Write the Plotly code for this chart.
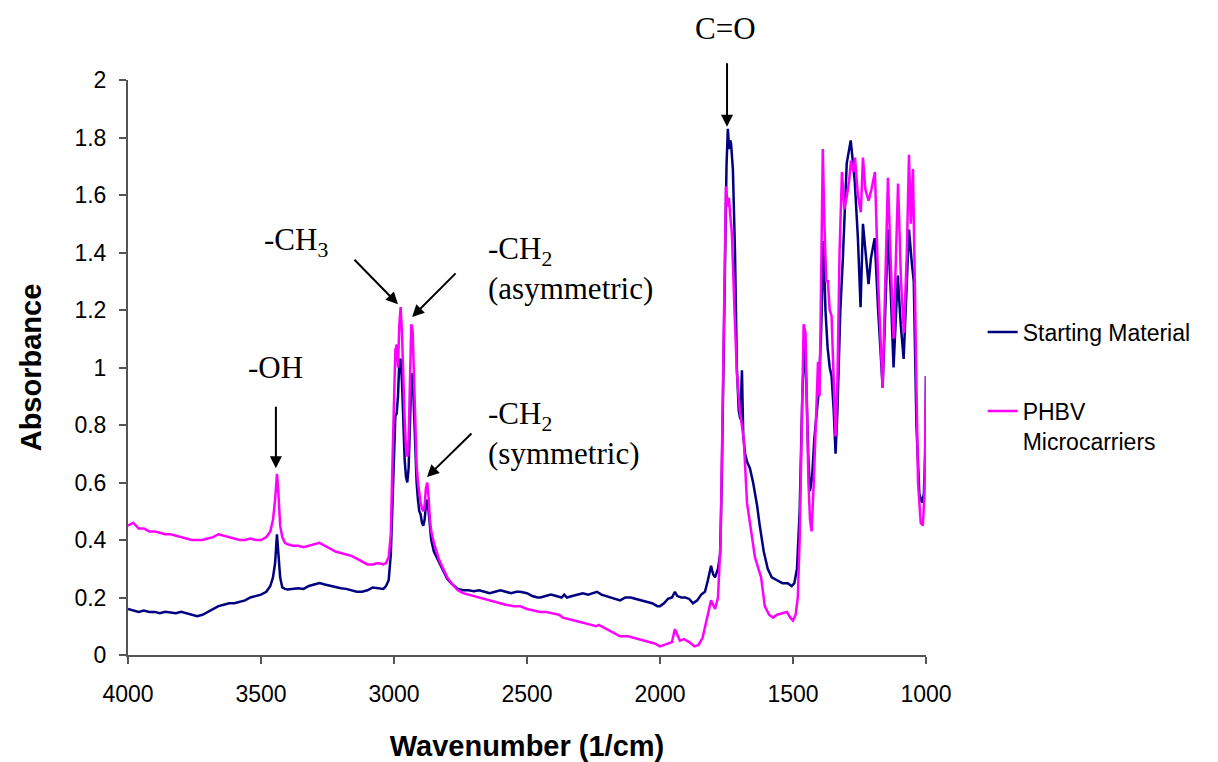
import plotly.graph_objects as go

# ---------------- data ----------------
wn_start = [4000, 3980, 3960, 3940, 3920, 3900, 3880, 3860, 3840, 3820, 3800, 3780, 3760, 3740, 3720,
            3700, 3680, 3660, 3640, 3620, 3600, 3580, 3560, 3540, 3520, 3500, 3480, 3465, 3455, 3447,
            3440, 3435, 3428, 3420, 3410, 3400, 3380, 3360, 3340, 3320, 3300, 3280, 3260, 3240, 3220,
            3200, 3180, 3160, 3140, 3120, 3100, 3080, 3060, 3040, 3030, 3020, 3012, 3005, 3000, 2995,
            2990, 2985, 2980, 2975, 2970, 2965, 2960, 2955, 2950, 2945, 2940, 2935, 2930, 2925, 2920,
            2915, 2910, 2905, 2900, 2895, 2890, 2885, 2880, 2875, 2870, 2865, 2860, 2850, 2840, 2830,
            2820, 2810, 2800, 2780, 2760, 2740, 2720, 2700, 2680, 2660, 2640, 2620, 2600, 2580, 2560,
            2540, 2526, 2500, 2480, 2460, 2450, 2430, 2410, 2390, 2370, 2360, 2350, 2330, 2310, 2290,
            2270, 2250, 2237, 2220, 2200, 2180, 2160, 2150, 2130, 2110, 2090, 2070, 2050, 2030, 2010,
            2000, 1985, 1970, 1955, 1944, 1935, 1920, 1905, 1890, 1876, 1860, 1845, 1831, 1820, 1808,
            1800, 1793, 1782, 1774, 1768, 1762, 1757, 1750, 1745, 1740, 1736, 1733, 1726, 1718, 1711,
            1704, 1698, 1692, 1687, 1680, 1672, 1662, 1650, 1635, 1625, 1610, 1595, 1580, 1560, 1540,
            1520, 1505, 1495, 1485, 1475, 1465, 1456, 1450, 1443, 1436, 1428, 1420, 1410, 1405, 1395,
            1385, 1378, 1370, 1362, 1355, 1347, 1340, 1333, 1322, 1313, 1298, 1283, 1268, 1256, 1246,
            1237, 1227, 1216, 1207, 1193, 1180, 1163, 1153, 1143, 1132, 1122, 1106, 1095, 1084, 1072,
            1064, 1053, 1046, 1036, 1025, 1015, 1008, 1003, 1000]
abs_start = [0.16, 0.155, 0.15, 0.155, 0.15, 0.15, 0.145, 0.15, 0.148, 0.145, 0.15, 0.145, 0.14, 0.135, 0.14,
             0.15, 0.16, 0.17, 0.175, 0.18, 0.18, 0.185, 0.19, 0.2, 0.205, 0.21, 0.22, 0.24, 0.27, 0.32,
             0.42, 0.36, 0.27, 0.235, 0.23, 0.228, 0.23, 0.232, 0.23, 0.24, 0.245, 0.25, 0.245, 0.24, 0.235,
             0.232, 0.23, 0.225, 0.22, 0.22, 0.225, 0.235, 0.232, 0.23, 0.24, 0.26, 0.35, 0.55, 0.72, 0.83,
             0.84, 0.9, 1.02, 1.03, 0.95, 0.8, 0.68, 0.62, 0.6, 0.65, 0.8, 0.96, 0.98, 0.85, 0.7,
             0.6, 0.54, 0.5, 0.49, 0.46, 0.45, 0.47, 0.52, 0.54, 0.5, 0.44, 0.4, 0.36, 0.34, 0.32,
             0.3, 0.28, 0.265, 0.245, 0.23, 0.225, 0.225, 0.222, 0.225, 0.22, 0.215, 0.22, 0.225, 0.22, 0.215,
             0.22, 0.22, 0.215, 0.205, 0.2, 0.2, 0.205, 0.21, 0.205, 0.2, 0.21, 0.2, 0.205, 0.21, 0.215,
             0.21, 0.215, 0.22, 0.21, 0.205, 0.2, 0.195, 0.19, 0.2, 0.2, 0.195, 0.19, 0.185, 0.18, 0.17,
             0.17, 0.18, 0.195, 0.2, 0.22, 0.205, 0.2, 0.2, 0.195, 0.18, 0.19, 0.21, 0.22, 0.26, 0.31,
             0.28, 0.27, 0.3, 0.35, 0.6, 1.0, 1.4, 1.7, 1.83, 1.76, 1.79, 1.78, 1.69, 1.4, 1.0,
             0.85, 0.82, 0.99, 0.76, 0.7, 0.67, 0.65, 0.6, 0.52, 0.45, 0.36, 0.3, 0.27, 0.26, 0.25,
             0.25, 0.24, 0.25, 0.3, 0.5, 0.9, 1.1, 0.95, 0.7, 0.57, 0.62, 0.75, 0.85, 0.9, 1.1,
             1.44, 1.2, 1.07, 1.0, 0.97, 0.85, 0.7, 0.85, 1.2, 1.37, 1.71, 1.79, 1.65, 1.45, 1.21,
             1.5, 1.4, 1.29, 1.38, 1.45, 1.2, 0.93, 1.2, 1.48, 1.25, 1.0, 1.32, 1.15, 1.03, 1.3,
             1.48, 1.36, 1.3, 0.8, 0.56, 0.53, 0.56, 0.7, 0.97]

wn_phbv = [4000, 3980, 3960, 3940, 3920, 3900, 3880, 3860, 3840, 3820, 3800, 3780, 3760, 3740, 3720,
           3700, 3680, 3660, 3640, 3620, 3600, 3580, 3560, 3540, 3520, 3500, 3480, 3465, 3455, 3447,
           3440, 3435, 3428, 3420, 3410, 3400, 3380, 3360, 3340, 3320, 3300, 3280, 3260, 3240, 3220,
           3200, 3180, 3160, 3140, 3120, 3100, 3080, 3060, 3040, 3030, 3020, 3012, 3005, 3000, 2995,
           2990, 2985, 2980, 2975, 2970, 2965, 2960, 2955, 2950, 2945, 2940, 2935, 2930, 2925, 2920,
           2915, 2910, 2905, 2900, 2895, 2890, 2885, 2880, 2875, 2870, 2865, 2860, 2850, 2840, 2830,
           2820, 2810, 2800, 2780, 2760, 2740, 2720, 2700, 2650, 2600, 2580, 2550, 2526, 2500, 2480,
           2450, 2430, 2400, 2380, 2365, 2340, 2320, 2300, 2280, 2260, 2240, 2230, 2210, 2190, 2170,
           2150, 2120, 2100, 2080, 2060, 2040, 2020, 2000, 1985, 1970, 1955, 1944, 1935, 1925, 1910,
           1890, 1870, 1855, 1840, 1830, 1820, 1808, 1793, 1782, 1772, 1765, 1757, 1752, 1745, 1741,
           1735, 1730, 1720, 1711, 1700, 1692, 1685, 1673, 1660, 1643, 1630, 1620, 1606, 1590, 1575,
           1560, 1540, 1523, 1510, 1500, 1490, 1482, 1475, 1468, 1460, 1453, 1448, 1442, 1436, 1430,
           1422, 1415, 1406, 1400, 1395, 1388, 1382, 1375, 1369, 1362, 1355, 1348, 1340, 1333, 1325,
           1316, 1307, 1297, 1289, 1282, 1273, 1267, 1256, 1245, 1237, 1228, 1216, 1205, 1192, 1180,
           1163, 1153, 1143, 1132, 1122, 1105, 1094, 1083, 1072, 1064, 1057, 1049, 1040, 1030, 1020,
           1012, 1006, 1003, 1000]
abs_phbv = [0.45, 0.46, 0.44, 0.44, 0.43, 0.43, 0.425, 0.42, 0.42, 0.415, 0.41, 0.405, 0.4, 0.4, 0.4,
            0.405, 0.41, 0.42, 0.415, 0.41, 0.405, 0.4, 0.4, 0.405, 0.4, 0.4, 0.41, 0.43, 0.47, 0.54,
            0.63, 0.57, 0.45, 0.41, 0.39, 0.385, 0.38, 0.38, 0.375, 0.38, 0.385, 0.39, 0.38, 0.37, 0.36,
            0.355, 0.35, 0.345, 0.335, 0.325, 0.315, 0.315, 0.32, 0.315, 0.32, 0.34, 0.42, 0.7, 0.9, 1.06,
            1.08, 1.0, 1.15, 1.21, 1.12, 0.95, 0.82, 0.72, 0.69, 0.75, 0.95, 1.15, 1.13, 0.95, 0.78,
            0.66, 0.6, 0.56, 0.53, 0.51, 0.5, 0.52, 0.58, 0.6, 0.55, 0.47, 0.43, 0.39, 0.36, 0.33,
            0.31, 0.29, 0.27, 0.245, 0.225, 0.215, 0.21, 0.205, 0.19, 0.18, 0.175, 0.17, 0.17, 0.16, 0.155,
            0.15, 0.15, 0.145, 0.14, 0.13, 0.125, 0.12, 0.115, 0.11, 0.105, 0.1, 0.105, 0.095, 0.085, 0.075,
            0.065, 0.065, 0.06, 0.055, 0.05, 0.045, 0.04, 0.03, 0.035, 0.04, 0.045, 0.09, 0.07, 0.05, 0.055,
            0.045, 0.03, 0.035, 0.06, 0.1, 0.15, 0.19, 0.16, 0.2, 0.4, 0.8, 1.3, 1.63, 1.56, 1.59,
            1.52, 1.47, 1.2, 0.98, 0.85, 0.8, 0.75, 0.53, 0.45, 0.34, 0.3, 0.27, 0.17, 0.14, 0.13,
            0.14, 0.145, 0.15, 0.13, 0.12, 0.14, 0.2, 0.4, 0.8, 1.15, 1.12, 0.9, 0.6, 0.47, 0.43,
            0.6, 0.8, 1.02, 0.9, 1.2, 1.76, 1.5, 1.3, 1.3, 1.2, 1.18, 1.0, 0.76, 0.95, 1.4,
            1.68, 1.55, 1.6, 1.65, 1.72, 1.68, 1.73, 1.6, 1.54, 1.73, 1.62, 1.58, 1.62, 1.68, 1.3,
            0.93, 1.3, 1.66, 1.35, 1.1, 1.64, 1.3, 1.12, 1.4, 1.74, 1.5, 1.69, 1.2, 0.6, 0.46,
            0.45, 0.55, 0.7, 0.97]

series_names = ["Starting Material", "PHBV<br>Microcarriers"]
series_colors = ["#000080", "#FF00FF"]

x_ticks = [4000, 3500, 3000, 2500, 2000, 1500, 1000]
y_ticks = [0, 0.2, 0.4, 0.6, 0.8, 1, 1.2, 1.4, 1.6, 1.8, 2]

SANS = "Liberation Sans, Arial, sans-serif"
SERIF = "Liberation Serif, Times New Roman, serif"

fig = go.Figure()
for i, (xs, ys) in enumerate([(wn_start, abs_start), (wn_phbv, abs_phbv)]):
    fig.add_trace(go.Scatter(
        x=xs, y=ys, mode="lines", name=series_names[i], legendgroup=f"g{i}",
        line=dict(color=series_colors[i], width=2.5), hoverinfo="skip"))

# annotations: text labels and arrows for the band assignments
ann_font = dict(family=SERIF, size=31, color="black")
labels = [
    dict(x=1752, y=1.09, yref="paper", text="C=O", xanchor="center"),
    dict(x=3368, y=1.437, yref="y", text="-CH<sub>3</sub>", xanchor="center"),
    dict(x=2654, y=1.346, yref="y", text="-CH<sub>2</sub><br>(asymmetric)", xanchor="left"),
    dict(x=3447, y=1.0, yref="y", text="-OH", xanchor="center"),
    dict(x=2654, y=0.772, yref="y", text="-CH<sub>2</sub><br>(symmetric)", xanchor="left"),
]
for lab in labels:
    fig.add_annotation(x=lab["x"], y=lab["y"], yref=lab["yref"], text=lab["text"],
                       xanchor=lab["xanchor"], yanchor="middle", align="left",
                       showarrow=False, font=ann_font)

arrows = [
    dict(x=1748, y=1.837, ax=0, ay=-65),
    dict(x=2985, y=1.22, ax=-45, ay=-46),
    dict(x=2932, y=1.176, ax=45, ay=-45),
    dict(x=3444, y=0.65, ax=0, ay=-63),
    dict(x=2876, y=0.619, ax=46, ay=-45),
]
for a in arrows:
    fig.add_annotation(x=a["x"], y=a["y"], ax=a["ax"], ay=a["ay"], text="", showarrow=True,
                       arrowhead=2, arrowsize=1.2, arrowwidth=2, arrowcolor="black", standoff=0)

fig.update_layout(
    width=1218, height=762,
    margin=dict(l=128, r=292, t=80, b=107, autoexpand=False),
    paper_bgcolor="white", plot_bgcolor="white",
    font=dict(family=SANS, color="black"),
    showlegend=True,
    legend=dict(x=1.071, y=0.599, xanchor="left", yanchor="top", valign="top",
                font=dict(family=SANS, size=23, color="black"),
                tracegroupgap=46, bgcolor="rgba(0,0,0,0)"),
)
fig.update_xaxes(
    range=[4000, 1000], tickmode="array", tickvals=x_ticks, ticktext=[str(v) for v in x_ticks],
    showgrid=False, zeroline=False, showline=True, linecolor="#555555", linewidth=2,
    ticks="outside", ticklen=7, tickwidth=2, tickcolor="#555555", ticklabelstandoff=10,
    tickfont=dict(family=SANS, size=23, color="black"), automargin=False,
    title=dict(text="<b>Wavenumber (1/cm)</b>", font=dict(family=SANS, size=29, color="black"), standoff=32),
)
fig.update_yaxes(
    range=[0, 2], tickmode="array", tickvals=y_ticks, ticktext=[f"{v:g}" for v in y_ticks],
    showgrid=False, zeroline=False, showline=True, linecolor="#555555", linewidth=2,
    ticks="outside", ticklen=7, tickwidth=2, tickcolor="#555555", ticklabelstandoff=8,
    tickfont=dict(family=SANS, size=23, color="black"), automargin=False,
    title=dict(text="<b>Absorbance</b>", font=dict(family=SANS, size=29, color="black"), standoff=24),
)

fig.write_html("out.html", config={"displayModeBar": False},
               post_script="document.body.style.margin='0px';")
